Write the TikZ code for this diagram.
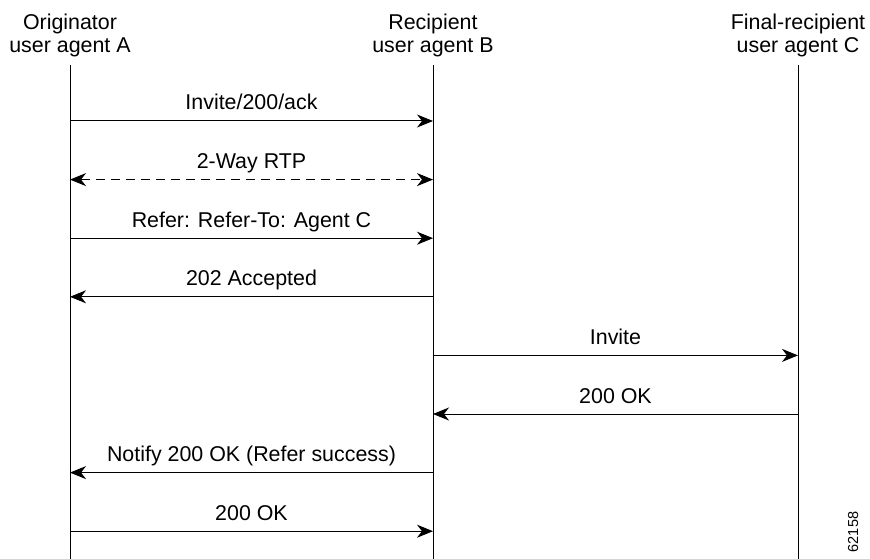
\documentclass[tikz,border=0pt]{standalone}
\usepackage{fontspec}
\setmainfont{Liberation Sans}
\usetikzlibrary{arrows.meta}

\begin{document}
\begin{tikzpicture}[x=1pt,y=-1pt]
\tikzset{>={Stealth[length=16pt,width=13pt,inset=5pt]}}
\tikzset{agent/.style={align=center,anchor=south,inner xsep=0pt,inner ysep=7.5pt,font=\fontsize{21.4}{23.5}\selectfont}}
\tikzset{lifeline/.style={line width=1pt}}
\tikzset{msg/.style={line width=1pt,->}}
\tikzset{lbl/.style={anchor=base,yshift=11pt,inner sep=0pt,font=\fontsize{21.4}{24}\selectfont}}

\useasboundingbox (0,0) rectangle (870,559);

\node[agent] (A) at (70,65) {Originator\\user agent A};
\node[agent] (B) at (433,65) {Recipient\\user agent B};
\node[agent] (C) at (798,65) {Final-recipient\\user agent C};

\foreach \n/\x in {A/70,B/433,C/798} {
  \coordinate (\n end) at (\x,559);
  \draw[lifeline] (\n.south) -- (\n end);
  \foreach \i in {1,...,8}
    \coordinate (\n\i) at (\x,{121+58.6*(\i-1)});
}

\draw[msg] (A1) -- node[lbl] {Invite/200/ack} (B1);
\draw[msg,<->,dash pattern=on 9pt off 6pt] (A2) -- node[lbl] {2-Way RTP} (B2);
\draw[msg] (A3) -- node[lbl] {Refer: Refer-To: Agent C} (B3);
\draw[msg] (B4) -- node[lbl] {202 Accepted} (A4);
\draw[msg] (B5) -- node[lbl] {Invite} (C5);
\draw[msg] (C6) -- node[lbl] {200 OK} (B6);
\draw[msg] (B7) -- node[lbl] {Notify 200 OK (Refer success)} (A7);
\draw[msg] (A8) -- node[lbl] {200 OK} (B8);

\node[rotate=90,font=\fontsize{14.5}{16}\selectfont] (fig) at (853,532) {62158};

\end{tikzpicture}
\end{document}
